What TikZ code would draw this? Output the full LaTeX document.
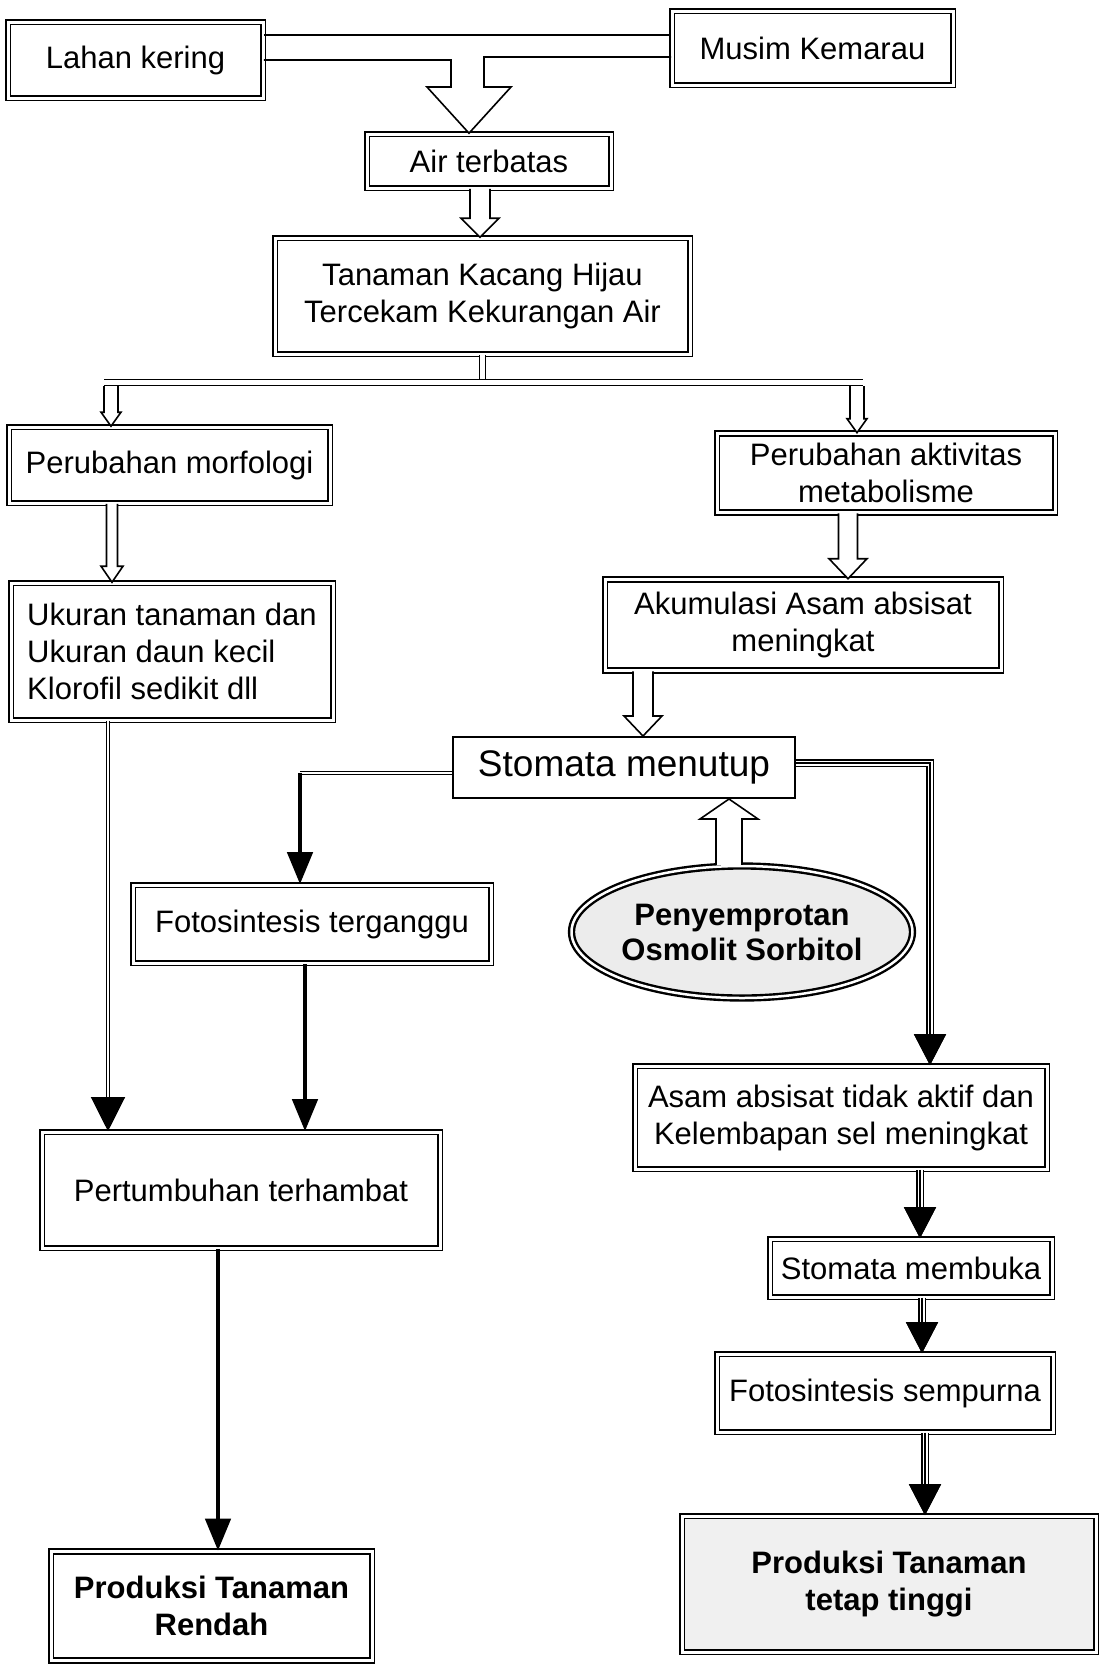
\documentclass[tikz,border=0pt]{standalone}
\usepackage{fontspec}
\setmainfont{Liberation Sans}
\usetikzlibrary{arrows.meta,calc,shapes.geometric}

\begin{document}
\begin{tikzpicture}[x=1pt,y=-1pt,
  box/.style={draw, double, double distance=3pt, line width=1.6pt, fill=white, inner sep=0pt, align=center, font=\fontsize{31}{37}\selectfont},
  plainbox/.style={draw, line width=2pt, fill=white, inner sep=0pt, font=\fontsize{37}{44}\selectfont},
  oval/.style={ellipse, draw, double, double distance=2.5pt, line width=2.4pt, fill=gray!15, inner sep=0pt, align=center, font=\fontsize{31}{35}\selectfont\bfseries},
  hollow/.style n args={3}{line width=1.6pt, fill=white, to path={let \p1=(\tikztostart), \p2=(\tikztotarget) in (\x2-#1,\y1) -- (\x2-#1,\y2+#3) -- (\x2-#2,\y2+#3) -- (\x2,\y2) -- (\x2+#2,\y2+#3) -- (\x2+#1,\y2+#3) -- (\x2+#1,\y1)}},
  pair/.style={double, double distance=5pt, line width=1pt},
  dline/.style={double, double distance=2.5pt, line width=1.2pt},
  heavy/.style={line width=4.5pt, -{Triangle[width=25pt,length=32pt]}},
  tripl/.style={double, double distance=5pt, line width=1.5pt, -{Triangle[width=32pt,length=31pt]}, postaction={draw, double=black, double distance=2pt, line width=0pt}}]
\useasboundingbox (0,0) rectangle (1102,1666);

\node[box, minimum width=255pt, minimum height=76pt] (lahan) at (135.5,60) {Lahan kering};
\node[box, minimum width=281pt, minimum height=74pt] (musim) at (812.5,48) {Musim Kemarau};
\node[box, minimum width=244pt, minimum height=54pt] (air) at (489,161) {Air terbatas};
\node[box, minimum width=415pt, minimum height=116pt] (tanaman) at (482.5,296) {Tanaman Kacang Hijau\\Tercekam Kekurangan Air};
\node[box, minimum width=321pt, minimum height=76pt] (morfologi) at (169.5,465) {Perubahan morfologi};
\node[box, minimum width=338pt, minimum height=79pt] (aktivitas) at (886,473) {Perubahan aktivitas\\metabolisme};
\node[box, align=left, minimum width=322pt, minimum height=137pt] (ukuran) at (172,651.5) {Ukuran tanaman dan\\Ukuran daun kecil\\Klorofil sedikit dll};
\node[box, minimum width=396pt, minimum height=91pt] (akumulasi) at (803,625) {Akumulasi Asam absisat\\meningkat};
\node[plainbox, minimum width=342pt, minimum height=61pt] (menutup) at (624,767.5) {Stomata menutup};
\node[box, minimum width=358pt, minimum height=78pt] (foto1) at (312,924) {Fotosintesis terganggu};
\node[oval, minimum width=301pt, minimum height=132pt] (osmolit) at (742,932) {Penyemprotan\\Osmolit Sorbitol};
\node[box, minimum width=398pt, minimum height=116pt] (pertumbuhan) at (241,1190) {Pertumbuhan terhambat};
\node[box, minimum width=412pt, minimum height=103pt] (asam) at (841,1117.5) {Asam absisat tidak aktif dan\\Kelembapan sel meningkat};
\node[box, minimum width=282pt, minimum height=58pt] (membuka) at (911,1268) {Stomata membuka};
\node[box, minimum width=336pt, minimum height=78pt] (foto2) at (885,1393) {Fotosintesis sempurna};
\node[box, fill=gray!12, font=\fontsize{31}{37}\selectfont\bfseries, minimum width=414pt, minimum height=136pt] (tinggi) at (889,1584) {Produksi Tanaman\\tetap tinggi};
\node[box, font=\fontsize{31}{37}\selectfont\bfseries, minimum width=321pt, minimum height=109pt] (rendah) at (211.5,1606) {Produksi Tanaman\\Rendah};

\coordinate (tip) at ($(air.north)+(-20,0)$);
\draw[line width=1.6pt] (lahan.east |- 0,35) -- (musim.west |- 0,35);
\draw[line width=1.6pt, fill=white] (lahan.east |- 0,60) -- (451,60) -- (451,87) -- (427,87) -- (tip) -- (511,87) -- (484,87) -- (484,57) -- (musim.west |- 0,57);
\draw[hollow={10pt}{19pt}{19pt}] (480,0 |- air.south) to (480,0 |- tanaman.north);

\coordinate (bl) at (104,382);
\coordinate (br) at (863,382);
\draw[pair] (tanaman.south) -- (tanaman.south |- bl);
\draw[pair] (bl) -- (br);
\draw[hollow={7pt}{10pt}{14pt}] (111,386) to (111,0 |- morfologi.north);
\draw[hollow={7pt}{10pt}{14pt}] (857,386) to (857,0 |- aktivitas.north);
\draw[hollow={5.5pt}{11pt}{16pt}] (112,0 |- morfologi.south) to (112,0 |- ukuran.north);
\draw[hollow={9.5pt}{19pt}{20pt}] (848,0 |- aktivitas.south) to (848,0 |- akumulasi.north);
\draw[hollow={10pt}{19pt}{20pt}] (643,0 |- akumulasi.south) to (643,0 |- menutup.north);
\draw[hollow={13pt}{29pt}{-20pt}] (729,0 |- osmolit.north) to (729,0 |- menutup.south);

\coordinate (bend) at (300,773);
\draw[dline] (menutup.west |- bend) -- (bend);
\draw[heavy] (bend) -- (bend |- foto1.north);
\draw[tripl] (menutup.east |- 0,763) -| (930,0 |- asam.north);
\draw[dline, -{Triangle[width=34pt,length=34pt]}] (108,0 |- ukuran.south) -- (108,0 |- pertumbuhan.north);
\draw[heavy] (305,0 |- foto1.south) -- (305,0 |- pertumbuhan.north);
\draw[heavy] (218,0 |- pertumbuhan.south) -- (218,0 |- rendah.north);
\draw[tripl] (920,0 |- asam.south) -- (920,0 |- membuka.north);
\draw[tripl] (922,0 |- membuka.south) -- (922,0 |- foto2.north);
\draw[tripl] (925,0 |- foto2.south) -- (925,0 |- tinggi.north);
\end{tikzpicture}
\end{document}
